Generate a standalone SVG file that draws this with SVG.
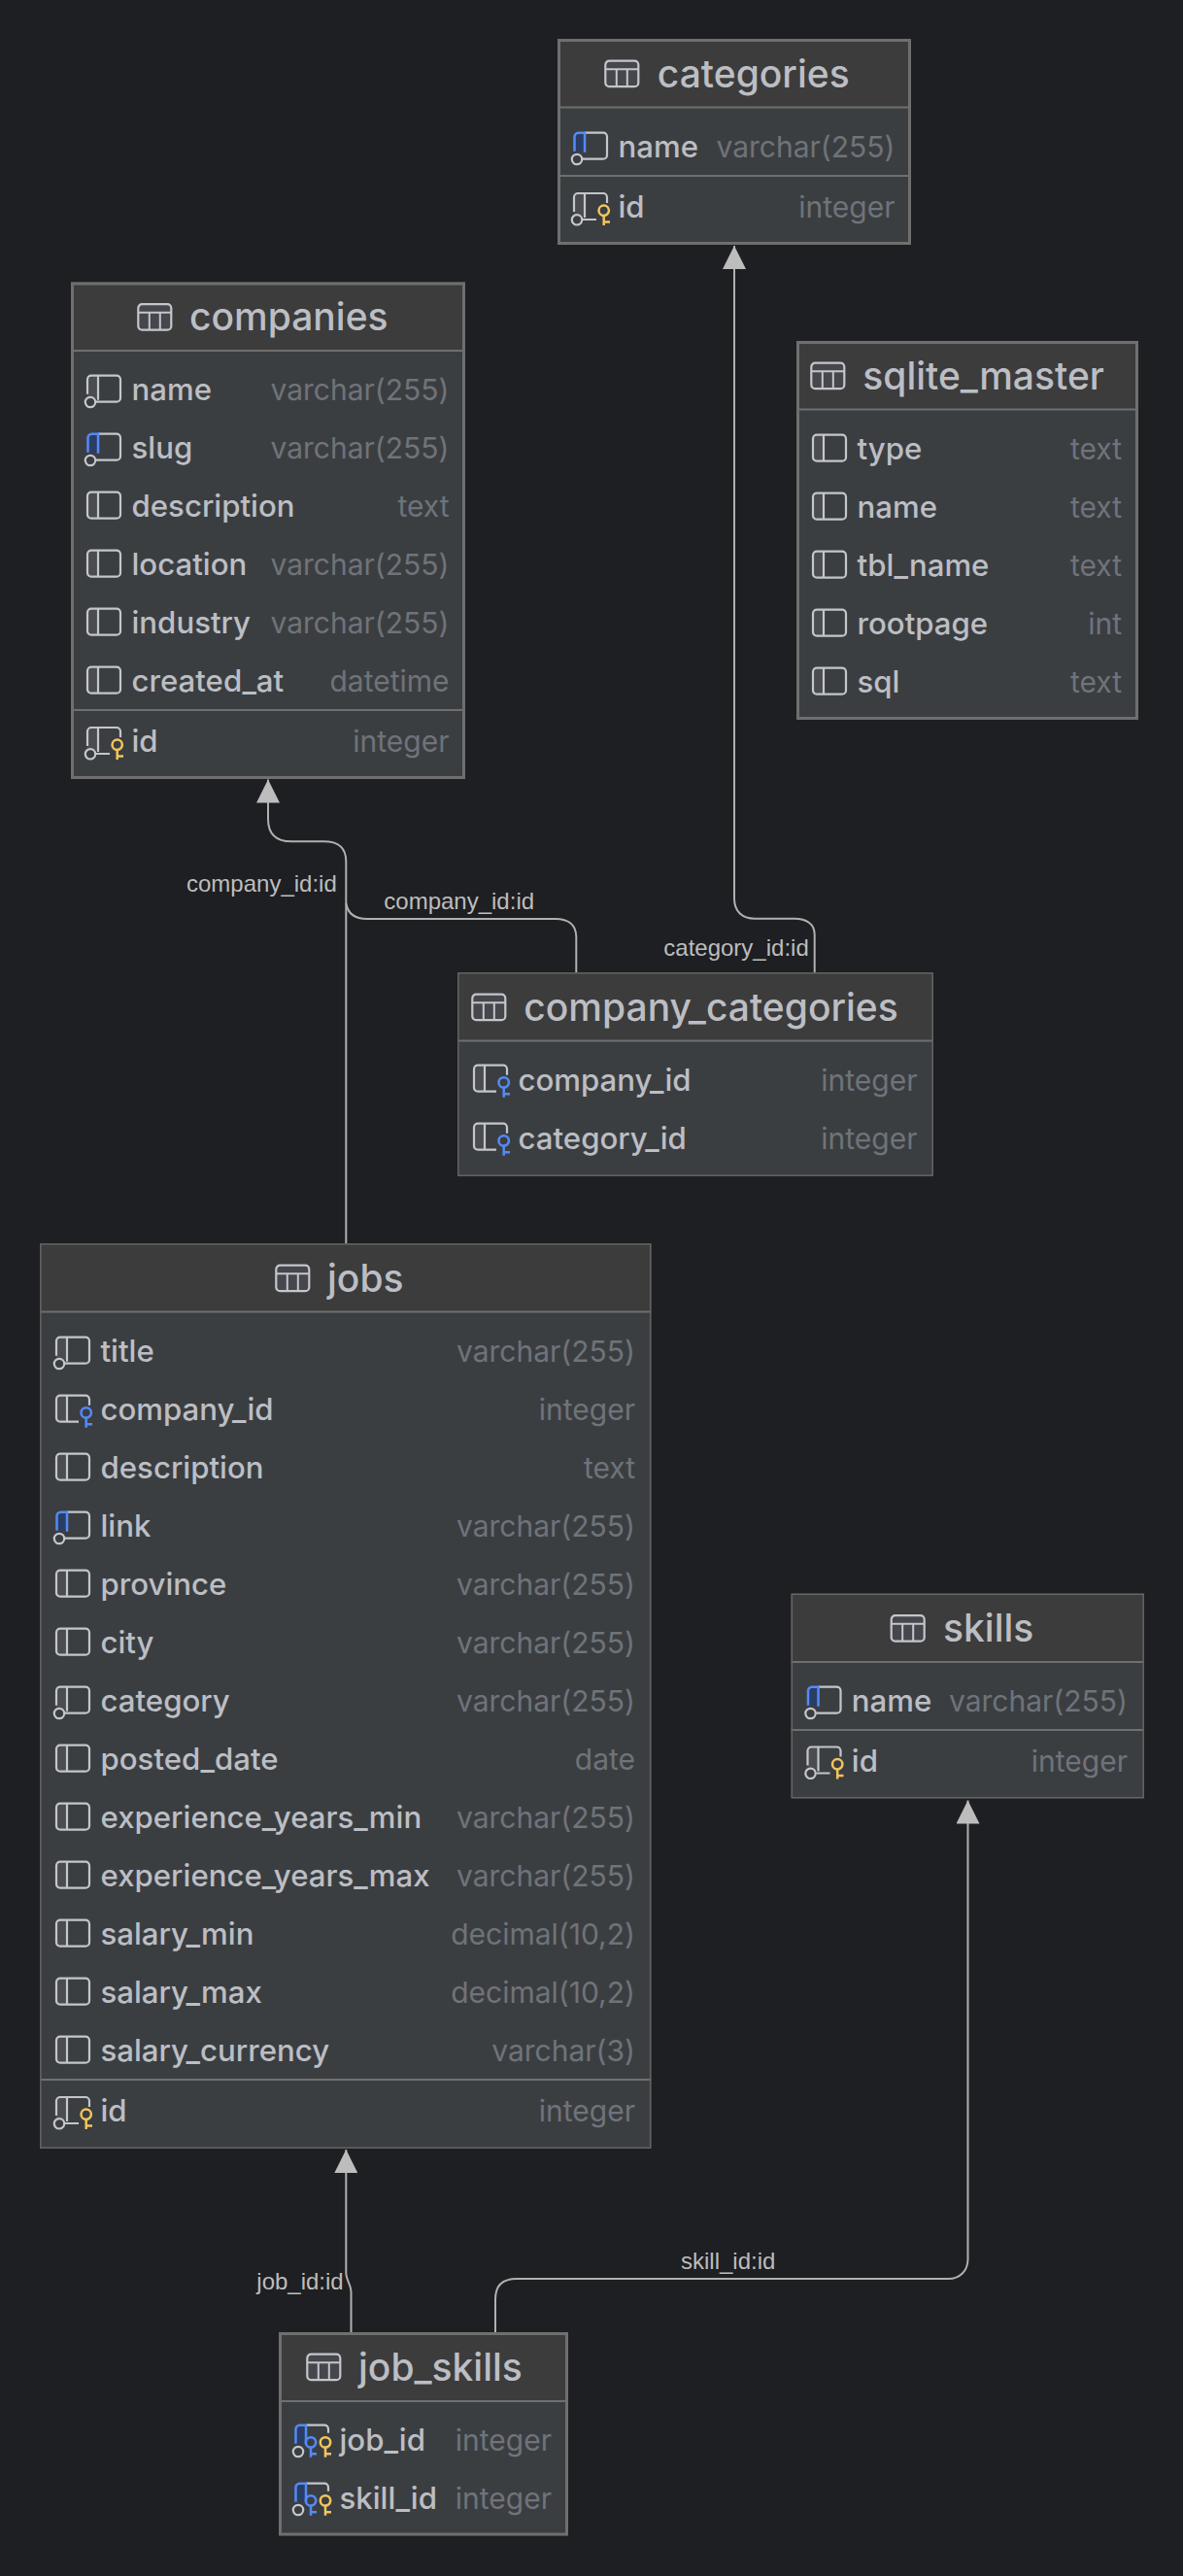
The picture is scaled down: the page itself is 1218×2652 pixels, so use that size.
<svg xmlns="http://www.w3.org/2000/svg" width="1218" height="2652" viewBox="0 0 1218 2652">
<style>
text{font-family:Inter,"Noto Sans",sans-serif}
.t{font-size:39px;font-weight:500;fill:#bcbec4}
.n{font-size:31.2px;font-weight:500;fill:#bcbec4}
.r{font-size:30px;fill:#6f737a;text-anchor:end}
.l{font-family:"Liberation Sans",Arial,sans-serif;font-size:24px;fill:#bdbdbd}
.h{fill:#3c3c3c}
.b{fill:#3b3e41}
.f{fill:none;stroke:#6f6f6f}
.d{stroke:#6f6f6f;stroke-width:2}
.w2{stroke-width:1.5;stroke:#636363}
.w3{stroke-width:3}
.c{fill:none;stroke:#b0b0b0;stroke-width:2}
.i{fill:none;stroke:#c4c6cb;stroke-width:2.2}
.ib{fill:none;stroke:#548af7;stroke-width:2.5}
.ig{fill:none;stroke:#f2c55c;stroke-width:2.5}
</style>
<defs>
<marker id="arrow" viewBox="0 0 24 24" refX="24" refY="12" markerWidth="24" markerHeight="24" markerUnits="userSpaceOnUse" orient="auto"><path d="M0 0L24 12L0 24Z" fill="#bdbdbd"/></marker>
<g id="tbl"><rect x="1" y="1" width="34" height="26.5" rx="4" fill="#45474c" stroke="#c4c6cb" stroke-width="2.2"/><path d="M1 9.5H35M12.5 9.5V27.5M23.5 9.5V27.5" stroke="#c4c6cb" stroke-width="2" fill="none"/></g>
<g id="plain"><path d="M12 -25H5a4 4 0 0 0-4 4V-2a4 4 0 0 0 4 4H12Z" fill="#4a4c50"/><rect x="1" y="-25" width="34" height="27" rx="4" class="i"/><path d="M12 -25V2" class="i"/></g>
<g id="nn"><path d="M12 -25H5a4 4 0 0 0-4 4V-2h11Z" fill="#4a4c50"/><path d="M1 -6V-21a4 4 0 0 1 4-4H31a4 4 0 0 1 4 4V-2a4 4 0 0 1-4 4H10M12 -25V0" class="i"/><circle cx="4" cy="2.3" r="5.2" class="i"/></g>
<g id="idx"><path d="M1.5 -6V-21a4 4 0 0 1 4-4H12V-6Z" fill="#2a3d63"/><path d="M12 -25H31a4 4 0 0 1 4 4V-2a4 4 0 0 1-4 4H10" class="i"/><path d="M1.500 -6V-21a4 4 0 0 1 4-4H12V-5" class="ib"/><circle cx="4" cy="2.3" r="5.2" fill="#3b3e41" stroke="#c4c6cb" stroke-width="2.2"/></g>
<g id="pk"><path d="M12 -25H5a4 4 0 0 0-4 4V-2h11Z" fill="#4a4c50"/><path d="M1 -6V-21a4 4 0 0 1 4-4H31a4 4 0 0 1 4 4V-15M10 2H24M12 -25V0" class="i"/><circle cx="4" cy="2.3" r="5.2" class="i"/><circle cx="31.7" cy="-7.3" r="5.2" class="ig"/><path d="M31.7 -2V8M31.7 4.5H38" class="ig"/></g>
<g id="fk"><path d="M12 -25H5a4 4 0 0 0-4 4V-2a4 4 0 0 0 4 4H12Z" fill="#4a4c50"/><path d="M24 2H5a4 4 0 0 1-4-4V-21a4 4 0 0 1 4-4H31a4 4 0 0 1 4 4V-15M12 -25V2" class="i"/><circle cx="31.7" cy="-7.3" r="5.2" class="ib"/><path d="M31.7 -2V8M31.7 4.5H38" class="ib"/></g>
<g id="pf"><path d="M1.5 -6V-21a4 4 0 0 1 4-4H12V-6Z" fill="#2a3d63"/><path d="M12 -25H31a4 4 0 0 1 4 4V-17" class="i"/><path d="M1.5 -6V-21a4 4 0 0 1 4-4H12V-6" class="ib"/><circle cx="4" cy="2.3" r="5.2" fill="#3b3e41" stroke="#c4c6cb" stroke-width="2.2"/><circle cx="17" cy="-7.3" r="5.2" class="ib"/><path d="M17 -2V8M17 4.5H23" class="ib"/><circle cx="32" cy="-7.3" r="5.2" class="ig"/><path d="M32 -2V8M32 4.5H38" class="ig"/></g>
</defs>
<rect width="1218" height="2652" fill="#1e1f22"/>
<g id="connectors">
<path class="c" marker-end="url(#arrow)" d="M356.3 1280V887C356.3 872 348 866.3 333 866.3H300C284 866.3 276 858 276 843V802.5"/>
<path class="c" d="M593.3 1001V965C593.3 952 585 946 572 946H378C365 946 358 940 356.3 930"/>
<path class="c" marker-end="url(#arrow)" d="M838.7 1001V962C838.7 951 830 945.7 818 945.7H777C764 945.7 756 938 756 925V253"/>
<path class="c" marker-end="url(#arrow)" d="M510 2401V2367C510 2353 518 2346 532 2346H976.5C988 2346 996.5 2338 996.5 2326V1853.5"/>
<path class="c" marker-end="url(#arrow)" d="M361.5 2401V2360C361.5 2352 356.3 2347 356.3 2340V2213"/>
<text class="l" x="192" y="917.5">company_id:id</text>
<text class="l" x="395.3" y="936">company_id:id</text>
<text class="l" x="683.3" y="983.5">category_id:id</text>
<text class="l" x="264.3" y="2356.5">job_id:id</text>
<text class="l" x="701" y="2335.5">skill_id:id</text>
</g>
<g id="categories">
<rect class="b" x="574" y="40" width="364" height="212"/><rect class="h" x="574" y="40" width="364" height="70"/>
<path class="d" d="M574 110.500H938M574 181H938"/><rect class="f w3" x="575.500" y="41.500" width="361" height="209"/>
<use href="#tbl" x="622.300" y="61.700"/><text class="t" x="676.800" y="90.300">categories</text>
<use href="#idx" x="590" y="161.700"/><text class="n" x="636.500" y="161.700">name</text><text class="r" x="921.500" y="161.700">varchar(255)</text>
<use href="#pk" x="590" y="224"/><text class="n" x="636.500" y="224">id</text><text class="r" x="921.500" y="224">integer</text>
</g>
<g id="companies">
<rect class="b" x="73" y="290.500" width="406" height="511.500"/><rect class="h" x="73" y="290.500" width="406" height="70"/>
<path class="d" d="M73 361H479M73 731H479"/><rect class="f w3" x="74.500" y="292" width="403" height="508.500"/>
<use href="#tbl" x="141.300" y="312.200"/><text class="t" x="195" y="340.300">companies</text>
<use href="#nn" x="89" y="411.700"/><text class="n" x="135.500" y="411.700">name</text><text class="r" x="462.500" y="411.700">varchar(255)</text>
<use href="#idx" x="89" y="471.700"/><text class="n" x="135.500" y="471.700">slug</text><text class="r" x="462.500" y="471.700">varchar(255)</text>
<use href="#plain" x="89" y="531.700"/><text class="n" x="135.500" y="531.700">description</text><text class="r" x="462.500" y="531.700">text</text>
<use href="#plain" x="89" y="591.700"/><text class="n" x="135.500" y="591.700">location</text><text class="r" x="462.500" y="591.700">varchar(255)</text>
<use href="#plain" x="89" y="651.700"/><text class="n" x="135.500" y="651.700">industry</text><text class="r" x="462.500" y="651.700">varchar(255)</text>
<use href="#plain" x="89" y="711.700"/><text class="n" x="135.500" y="711.700">created_at</text><text class="r" x="462.500" y="711.700">datetime</text>
<use href="#pk" x="89" y="774"/><text class="n" x="135.500" y="774">id</text><text class="r" x="462.500" y="774">integer</text>
</g>
<g id="sqlite_master">
<rect class="b" x="820" y="351" width="352" height="390"/><rect class="h" x="820" y="351" width="352" height="70"/>
<path class="d" d="M820 421.500H1172"/><rect class="f w3" x="821.500" y="352.500" width="349" height="387"/>
<use href="#tbl" x="834.300" y="372.700"/><text class="t" x="888.300" y="401.300">sqlite_master</text>
<use href="#plain" x="836" y="472.700"/><text class="n" x="882.500" y="472.700">type</text><text class="r" x="1155" y="472.700">text</text>
<use href="#plain" x="836" y="532.700"/><text class="n" x="882.500" y="532.700">name</text><text class="r" x="1155" y="532.700">text</text>
<use href="#plain" x="836" y="592.700"/><text class="n" x="882.500" y="592.700">tbl_name</text><text class="r" x="1155" y="592.700">text</text>
<use href="#plain" x="836" y="652.700"/><text class="n" x="882.500" y="652.700">rootpage</text><text class="r" x="1155" y="652.700">int</text>
<use href="#plain" x="836" y="712.700"/><text class="n" x="882.500" y="712.700">sql</text><text class="r" x="1155" y="712.700">text</text>
</g>
<g id="company_categories">
<rect class="b" x="471" y="1001" width="490" height="210"/><rect class="h" x="471" y="1001" width="490" height="70"/>
<path class="d" d="M471 1071.500H961"/><rect class="f w2" x="471.800" y="1001.800" width="488.400" height="208.400"/>
<use href="#tbl" x="485.300" y="1022.700"/><text class="t" x="539.300" y="1051">company_categories</text>
<use href="#fk" x="487" y="1121.700"/><text class="n" x="533.500" y="1122.500">company_id</text><text class="r" x="944.500" y="1122.500">integer</text>
<use href="#fk" x="487" y="1181.700"/><text class="n" x="533.500" y="1182.500">category_id</text><text class="r" x="944.500" y="1182.500">integer</text>
</g>
<g id="jobs">
<rect class="b" x="41" y="1280" width="629.500" height="932"/><rect class="h" x="41" y="1280" width="629.500" height="70"/>
<path class="d" d="M41 1350.500H670.500M41 2141H670.500"/><rect class="f w2" x="41.800" y="1280.800" width="627.900" height="930.400"/>
<use href="#tbl" x="283.300" y="1301.700"/><text class="t" x="337" y="1330.300">jobs</text>
<use href="#nn" x="57" y="1401.700"/><text class="n" x="103.500" y="1401.700">title</text><text class="r" x="654" y="1401.700">varchar(255)</text>
<use href="#fk" x="57" y="1461.700"/><text class="n" x="103.500" y="1461.700">company_id</text><text class="r" x="654" y="1461.700">integer</text>
<use href="#plain" x="57" y="1521.700"/><text class="n" x="103.500" y="1521.700">description</text><text class="r" x="654" y="1521.700">text</text>
<use href="#idx" x="57" y="1581.700"/><text class="n" x="103.500" y="1581.700">link</text><text class="r" x="654" y="1581.700">varchar(255)</text>
<use href="#plain" x="57" y="1641.700"/><text class="n" x="103.500" y="1641.700">province</text><text class="r" x="654" y="1641.700">varchar(255)</text>
<use href="#plain" x="57" y="1701.700"/><text class="n" x="103.500" y="1701.700">city</text><text class="r" x="654" y="1701.700">varchar(255)</text>
<use href="#nn" x="57" y="1761.700"/><text class="n" x="103.500" y="1761.700">category</text><text class="r" x="654" y="1761.700">varchar(255)</text>
<use href="#plain" x="57" y="1821.700"/><text class="n" x="103.500" y="1821.700">posted_date</text><text class="r" x="654" y="1821.700">date</text>
<use href="#plain" x="57" y="1881.700"/><text class="n" x="103.500" y="1881.700">experience_years_min</text><text class="r" x="654" y="1881.700">varchar(255)</text>
<use href="#plain" x="57" y="1941.700"/><text class="n" x="103.500" y="1941.700">experience_years_max</text><text class="r" x="654" y="1941.700">varchar(255)</text>
<use href="#plain" x="57" y="2001.700"/><text class="n" x="103.500" y="2001.700">salary_min</text><text class="r" x="654" y="2001.700">decimal(10,2)</text>
<use href="#plain" x="57" y="2061.700"/><text class="n" x="103.500" y="2061.700">salary_max</text><text class="r" x="654" y="2061.700">decimal(10,2)</text>
<use href="#plain" x="57" y="2121.700"/><text class="n" x="103.500" y="2121.700">salary_currency</text><text class="r" x="654" y="2121.700">varchar(3)</text>
<use href="#pk" x="57" y="2184"/><text class="n" x="103.500" y="2184">id</text><text class="r" x="654" y="2184">integer</text>
</g>
<g id="skills">
<rect class="b" x="814.500" y="1640.500" width="363.500" height="211"/><rect class="h" x="814.500" y="1640.500" width="363.500" height="70"/>
<path class="d" d="M814.500 1711H1178M814.500 1781H1178"/><rect class="f w2" x="815.300" y="1641.300" width="361.900" height="209.400"/>
<use href="#tbl" x="916.700" y="1662.200"/><text class="t" x="971" y="1690.300">skills</text>
<use href="#idx" x="830.500" y="1761.700"/><text class="n" x="876.800" y="1761.700">name</text><text class="r" x="1161" y="1761.700">varchar(255)</text>
<use href="#pk" x="830.500" y="1823.500"/><text class="n" x="876.800" y="1823.500">id</text><text class="r" x="1161" y="1823.500">integer</text>
</g>
<g id="job_skills">
<rect class="b" x="287" y="2401" width="298" height="209.500"/><rect class="h" x="287" y="2401" width="298" height="70"/>
<path class="d" d="M287 2472H585"/><rect class="f w3" x="288.500" y="2402.500" width="295" height="206.500"/>
<use href="#tbl" x="315.300" y="2422.700"/><text class="t" x="369" y="2451">job_skills</text>
<use href="#pf" x="303" y="2521.700"/><text class="n" x="349.500" y="2522.500">job_id</text><text class="r" x="568" y="2522.500">integer</text>
<use href="#pf" x="303" y="2581.700"/><text class="n" x="349.500" y="2582.500">skill_id</text><text class="r" x="568" y="2582.500">integer</text>
</g>
</svg>
